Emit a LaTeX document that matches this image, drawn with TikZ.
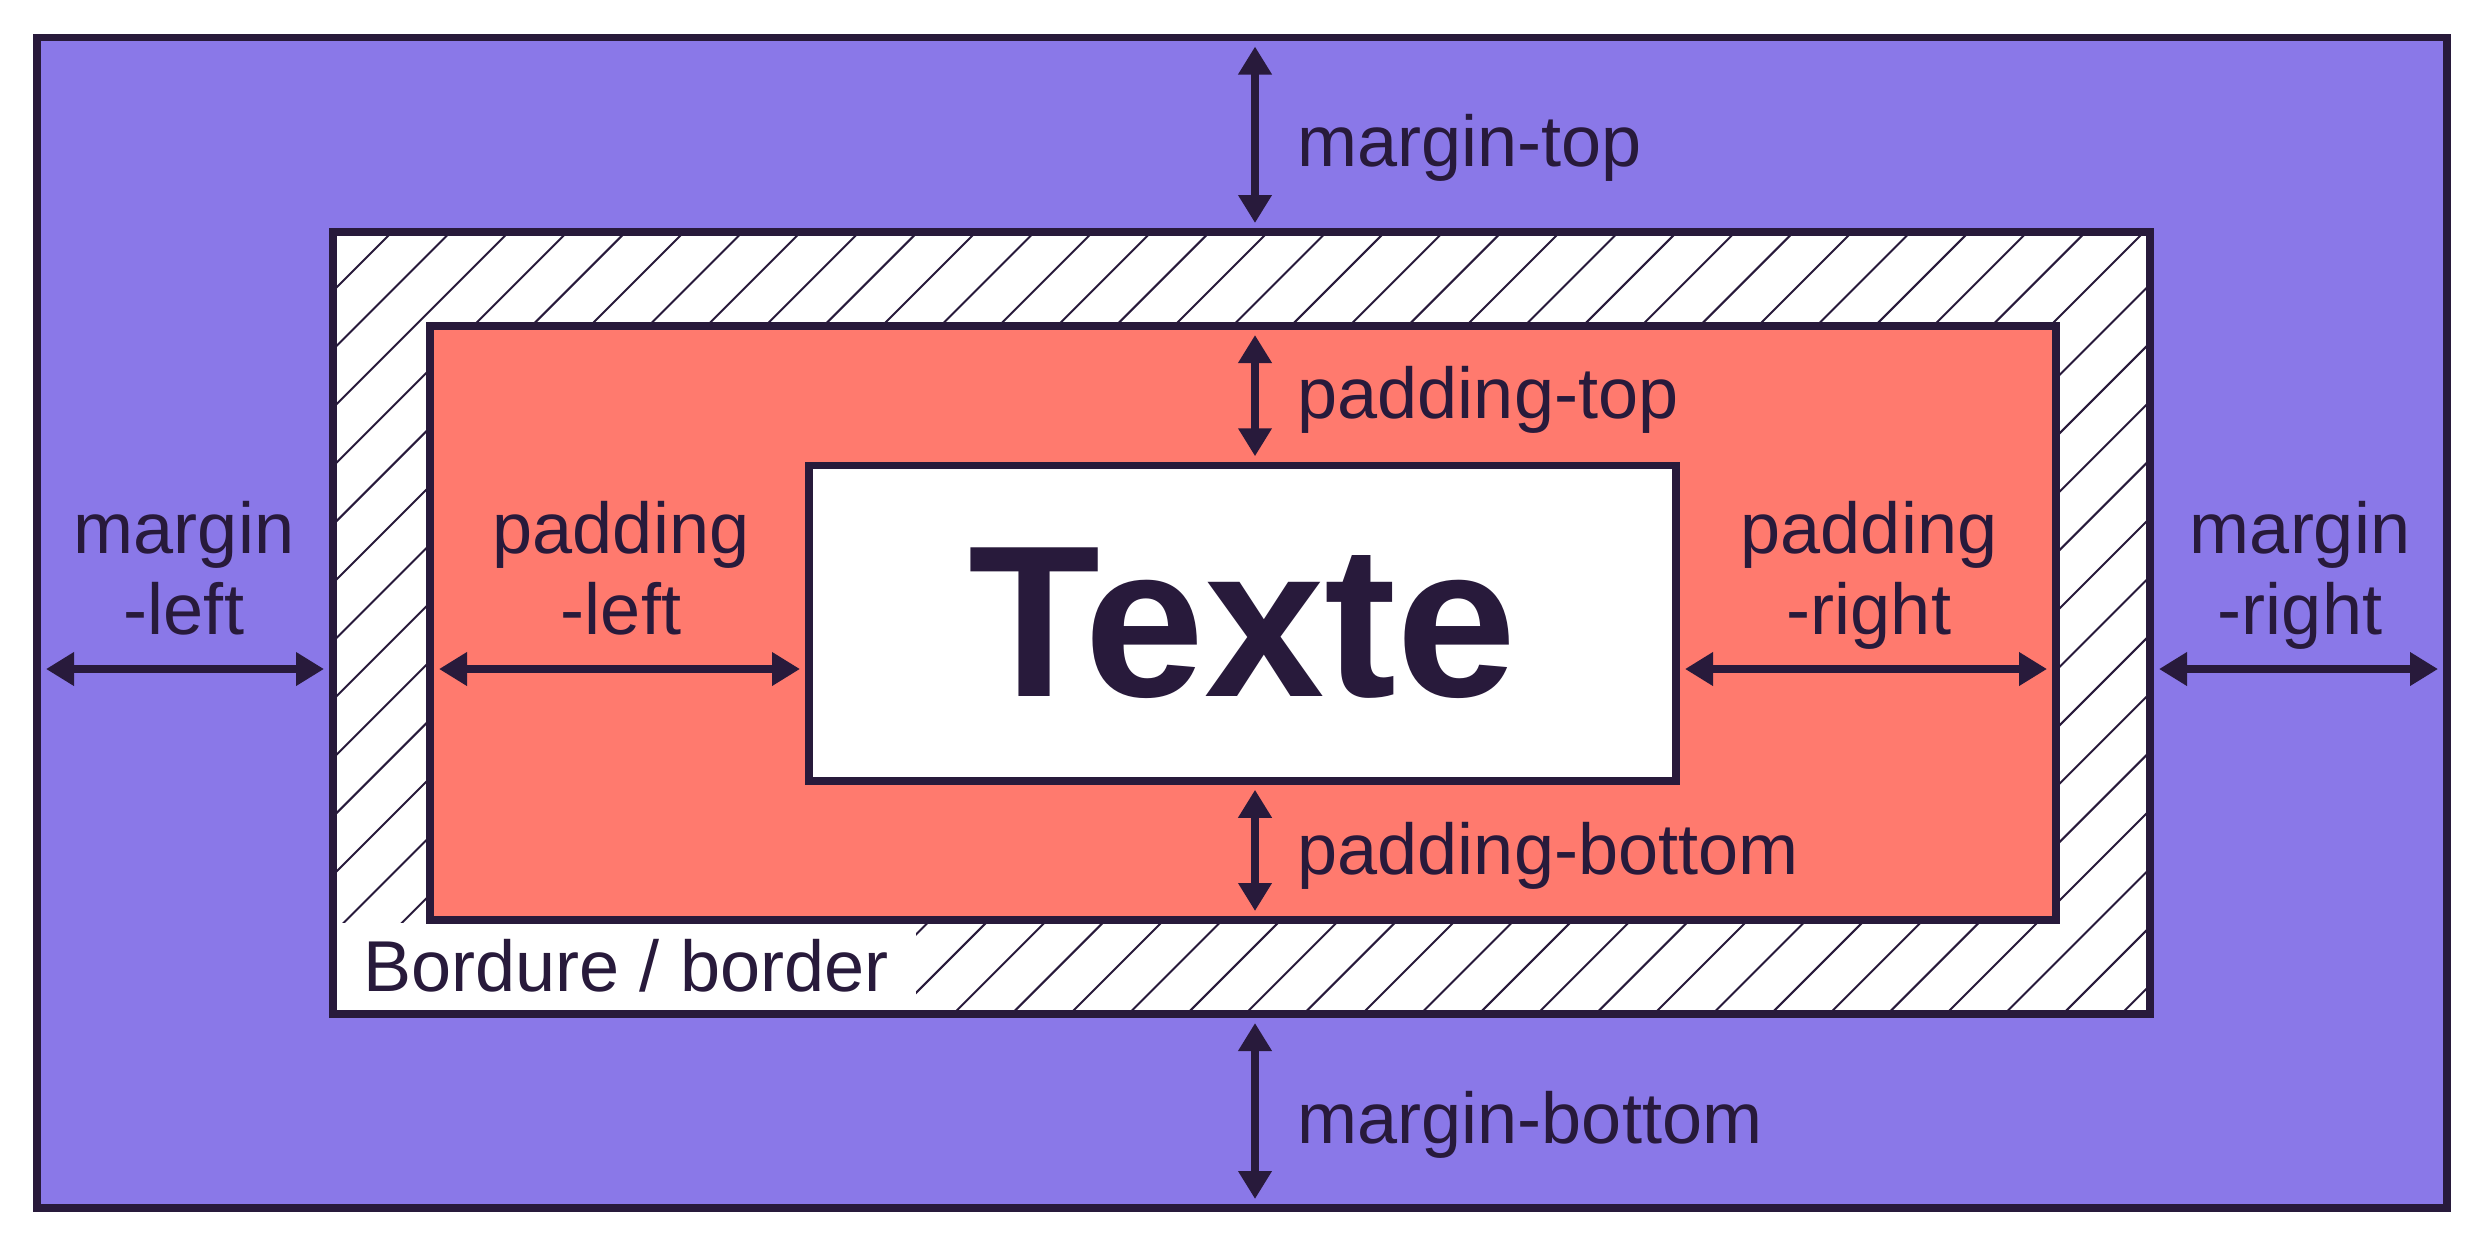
\documentclass[tikz,border=0pt]{standalone}
\usepackage{fontspec}
\setmainfont{Liberation Sans}
\usetikzlibrary{arrows.meta}
\definecolor{ink}{HTML}{281A3B}
\definecolor{marginfill}{HTML}{8A78E8}
\definecolor{paddingfill}{HTML}{FF7A6E}

\begin{document}
\begin{tikzpicture}[x=0.1mm,y=-0.1mm,
    box/.style={draw=ink,line width=0.75mm,inner sep=0pt,outer sep=0pt},
    dim/.style={{Triangle[length=2.8mm,width=3.2mm]}-{Triangle[length=2.8mm,width=3.2mm]},draw=ink,line width=0.75mm,shorten <=0.9mm,shorten >=0.9mm},
    dimtext/.style={text=ink,font=\fontsize{20.5pt}{23pt}\selectfont,inner sep=0pt},
    hatch/.style={draw=ink,line width=0.2mm}]

    \useasboundingbox (0,0) rectangle (2484,1251);

    \node[box,fill=marginfill,minimum width=241mm,minimum height=117.05mm] (margin) at (1242,622.75) {};
    \node[box,fill=white,minimum width=181.7mm,minimum height=78.2mm] (border) at (1241.5,623) {};
    \begin{scope}
        \clip (border.south west) rectangle (border.north east);
        \foreach \k in {9,...,53}
            \draw[hatch] ({40+58.4*\k-1014},1014) -- ({40+58.4*\k-232},232);
    \end{scope}
    \node[dimtext,fill=white,anchor=south west,inner xsep=2.75mm,inner ysep=1.95mm,text height=4.9mm,text depth=0pt,xshift=0.25mm,yshift=0.25mm] (borderlbl) at (border.south west) {Bordure / border};
    \draw[ink,line width=0.75mm] (border.south west) rectangle (border.north east);
    \node[box,fill=paddingfill,minimum width=162.6mm,minimum height=59.4mm] (padding) at (1243,623) {};
    \node[box,fill=white,minimum width=86.7mm,minimum height=31.55mm,text=ink,font=\fontsize{61.5pt}{72pt}\selectfont\bfseries] (content) at (1242.5,623) {Texte};

    \coordinate (hrow) at (0,669);
    \coordinate (vcol) at (1255,0);

    \draw[dim] (margin.west |- hrow) -- (border.west |- hrow);
    \draw[dim] (padding.west |- hrow) -- (content.west |- hrow);
    \draw[dim] (content.east |- hrow) -- (padding.east |- hrow);
    \draw[dim] (border.east |- hrow) -- (margin.east |- hrow);
    \draw[dim] (vcol |- margin.north) -- (vcol |- border.north);
    \draw[dim] (vcol |- padding.north) -- (vcol |- content.north);
    \draw[dim] (vcol |- content.south) -- (vcol |- padding.south);
    \draw[dim] (vcol |- border.south) -- (vcol |- margin.south);

    \node[dimtext,align=center,anchor=base] (mleftlbl) at (184,634) {margin\\-left};
    \node[dimtext,align=center,anchor=base] (pleftlbl) at (621,634) {padding\\-left};
    \node[dimtext,align=center,anchor=base] (prightlbl) at (1869,634) {padding\\-right};
    \node[dimtext,align=center,anchor=base] (mrightlbl) at (2300,634) {margin\\-right};

    \node[dimtext,anchor=base west] (mtoplbl) at (1297,166) {margin-top};
    \node[dimtext,anchor=base west] (ptoplbl) at (1297,418) {padding-top};
    \node[dimtext,anchor=base west] (pbottomlbl) at (1297,874) {padding-bottom};
    \node[dimtext,anchor=base west] (mbottomlbl) at (1297,1143) {margin-bottom};
\end{tikzpicture}
\end{document}
